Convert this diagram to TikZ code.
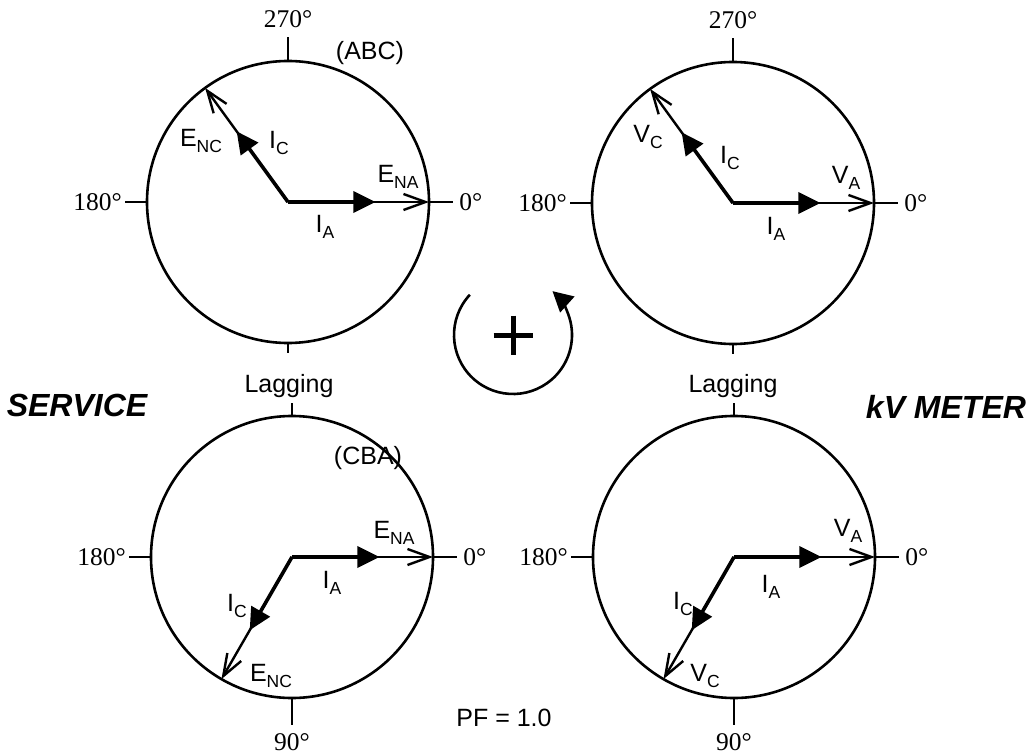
\documentclass[tikz,border=0pt]{standalone}
\usepackage{fontspec}
\setmainfont{Liberation Serif}
\setsansfont{Liberation Sans}
\usetikzlibrary{arrows.meta, calc}
\newcommand{\phsub}[1]{\raisebox{-6pt}{\fontsize{17.5}{20}\selectfont #1}}

\begin{document}
\begin{tikzpicture}[x=1pt, y=-1pt,
    ring/.style={draw, circle, line width=2.6pt, minimum size=282pt, inner sep=0pt, outer sep=0pt},
    degtick/.style={draw, line width=2.6pt},
    ev/.style={draw, line width=2.4pt, -{Straight Barb[length=22pt, width=16pt]}},
    iv/.style={draw, line width=3.6pt, -{Triangle[length=22pt, width=21pt]}},
    lbl/.style={font=\sffamily\fontsize{25}{30}\selectfont, inner sep=0pt},
    deg/.style={font=\fontsize{25.5}{30}\selectfont, inner sep=2pt},
    title/.style={font=\sffamily\bfseries\itshape\fontsize{32}{38}\selectfont}
]
    \useasboundingbox (0,0) rectangle (1031,754);

    \node[ring] (tl) at (288,202) {};
    \node[ring] (tr) at (733,203) {};
    \node[ring] (bl) at (292,557) {};
    \node[ring] (br) at (734,557) {};

    % top left (ABC)
    \draw[degtick] (tl.north) -- ++(0,-24) node[deg, anchor=south, inner sep=8pt] (tl270) {270°};
    \draw[degtick] (tl.west) -- ++(-22,0) node[deg, anchor=east] (tl180) {180°};
    \draw[degtick] (tl.east) -- ++(24,0) node[deg, anchor=west, inner sep=5pt] (tl0) {0°};
    \draw[degtick] (tl.south) -- ++(0,10);
    \draw[ev] (tl.center) -- (tl.east);
    \draw[ev] (tl.center) -- (tl.126);
    \draw[iv] (tl.center) -- ($(tl.center)!0.62!(tl.east)$);
    \draw[iv] (tl.center) -- ($(tl.center)!0.62!(tl.126)$);
    \node[lbl] (tlenc) at (201,141) {E\phsub{NC}};
    \node[lbl] (tlic)  at (279,143) {I\phsub{C}};
    \node[lbl] (tlena) at (398,177) {E\phsub{NA}};
    \node[lbl] (tlia)  at (325,227) {I\phsub{A}};

    % top right
    \draw[degtick] (tr.north) -- ++(0,-24) node[deg, anchor=south, inner sep=8pt] (tr270) {270°};
    \draw[degtick] (tr.west) -- ++(-22,0) node[deg, anchor=east] (tr180) {180°};
    \draw[degtick] (tr.east) -- ++(24,0) node[deg, anchor=west, inner sep=5pt] (tr0) {0°};
    \draw[degtick] (tr.south) -- ++(0,10);
    \draw[ev] (tr.center) -- (tr.east);
    \draw[ev] (tr.center) -- (tr.126);
    \draw[iv] (tr.center) -- ($(tr.center)!0.62!(tr.east)$);
    \draw[iv] (tr.center) -- ($(tr.center)!0.62!(tr.126)$);
    \node[lbl] (trvc) at (648,137) {V\phsub{C}};
    \node[lbl] (tric) at (730,158) {I\phsub{C}};
    \node[lbl] (trva) at (846,178) {V\phsub{A}};
    \node[lbl] (tria) at (776,229) {I\phsub{A}};

    % bottom left (CBA)
    \draw[degtick] (bl.north) -- ++(0,-13);
    \draw[degtick] (bl.west) -- ++(-22,0) node[deg, anchor=east] (bl180) {180°};
    \draw[degtick] (bl.east) -- ++(24,0) node[deg, anchor=west, inner sep=5pt] (bl0) {0°};
    \draw[degtick] (bl.south) -- ++(0,27) node[deg, anchor=north, inner sep=7pt] (bl90) {90°};
    \draw[ev] (bl.center) -- (bl.east);
    \draw[ev] (bl.center) -- (bl.240);
    \draw[iv] (bl.center) -- ($(bl.center)!0.62!(bl.east)$);
    \draw[iv] (bl.center) -- ($(bl.center)!0.6!(bl.240)$);
    \node[lbl] (blic)  at (237,606) {I\phsub{C}};
    \node[lbl] (blenc) at (271,676) {E\phsub{NC}};
    \node[lbl] (blena) at (394,533) {E\phsub{NA}};
    \node[lbl] (blia)  at (332,583) {I\phsub{A}};

    % bottom right
    \draw[degtick] (br.north) -- ++(0,-13);
    \draw[degtick] (br.west) -- ++(-22,0) node[deg, anchor=east] (br180) {180°};
    \draw[degtick] (br.east) -- ++(24,0) node[deg, anchor=west, inner sep=5pt] (br0) {0°};
    \draw[degtick] (br.south) -- ++(0,27) node[deg, anchor=north, inner sep=7pt] (br90) {90°};
    \draw[ev] (br.center) -- (br.east);
    \draw[ev] (br.center) -- (br.240);
    \draw[iv] (br.center) -- ($(br.center)!0.62!(br.east)$);
    \draw[iv] (br.center) -- ($(br.center)!0.6!(br.240)$);
    \node[lbl] (bric) at (683,604) {I\phsub{C}};
    \node[lbl] (brvc) at (705,676) {V\phsub{C}};
    \node[lbl] (brva) at (848,531) {V\phsub{A}};
    \node[lbl] (bria) at (771,587) {I\phsub{A}};

    % rotation sign
    \coordinate (rc) at (513,335);
    \draw[line width=2.6pt, -{Triangle[length=20pt, width=21pt]}] ($(rc)+(-137:59)$) arc[start angle=-137, end angle=-408, radius=59];
    \draw[line width=5pt] ($(rc)+(-19.5,0)$) -- ($(rc)+(19.5,0)$);
    \draw[line width=5pt] ($(rc)+(0,-19.5)$) -- ($(rc)+(0,19.5)$);

    \node[lbl] (abc) at (370,53) {(ABC)};
    \node[lbl] (cba) at (368,458) {(CBA)};
    \node[lbl, anchor=base] (lagl) at (289,392) {Lagging};
    \node[lbl, anchor=base] (lagr) at (733,392) {Lagging};
    \node[lbl] (pf) at (504,718) {PF = 1.0};
    \node[title] (service) at (77,405) {SERVICE};
    \node[title] (meter) at (946,407) {kV METER};
\end{tikzpicture}
\end{document}
